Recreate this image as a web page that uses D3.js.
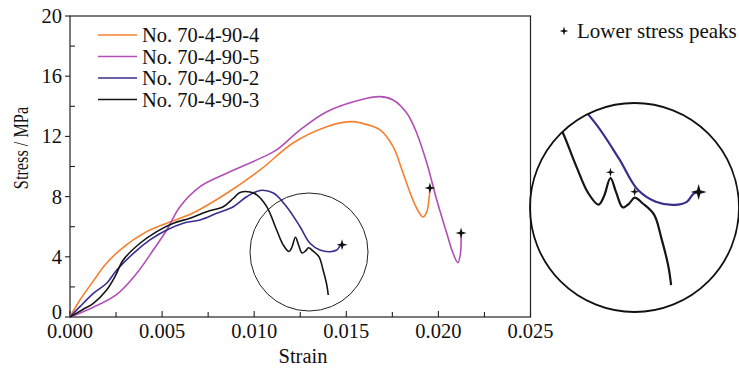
<!DOCTYPE html>
<html><head><meta charset="utf-8">
<script src="https://cdn.jsdelivr.net/npm/d3@7"></script>
<style>
html,body{margin:0;padding:0;background:#fff;}
svg{display:block;}
</style></head>
<body>
<svg id="c" width="739" height="370"></svg>
<script>
// ---- data ----
const seriesNames = ["No. 70-4-90-4","No. 70-4-90-5","No. 70-4-90-2","No. 70-4-90-3"];
const seriesColors = ["#f5802f","#b24fb6","#372e8e","#151515"];
const xTicks = [0,0.005,0.010,0.015,0.020,0.025];
const xTickLabels = ["0.000","0.005","0.010","0.015","0.020","0.025"];
const yTicks = [0,4,8,12,16,20];
const yTickLabels = ["0","4","8","12","16","20"];

// strain, stress (MPa)
const s4 = [[0,0],[0.00054,1.13],[0.00127,2.4],[0.0019,3.45],[0.00271,4.45],[0.00416,5.67],[0.00525,6.23],[0.00668,6.91],[0.00851,8.22],[0.01032,9.77],[0.01211,11.56],[0.01394,12.64],[0.0152,12.98],[0.01574,12.91],[0.01683,12.43],[0.01754,11.32],[0.01808,9.57],[0.01862,7.77],[0.019,6.84],[0.01916,6.64],[0.01936,6.95],[0.01948,7.75],[0.01954,8.57]];
const s5 = [[0,0],[0.00127,0.65],[0.00254,1.5],[0.00362,2.9],[0.00452,4.45],[0.00525,5.78],[0.00597,7.33],[0.00706,8.66],[0.00851,9.55],[0.01032,10.54],[0.01122,11.1],[0.01249,12.43],[0.01394,13.64],[0.01574,14.42],[0.01683,14.64],[0.01754,14.42],[0.01828,13.55],[0.01882,12.23],[0.01937,10.23],[0.01991,7.77],[0.02045,5.58],[0.02079,4.25],[0.02106,3.61],[0.0212,4.25],[0.02123,5.58]];
const s2 = [[0,0],[0.00054,0.69],[0.00127,1.57],[0.00199,2.24],[0.00254,3.12],[0.00344,4.23],[0.00434,5.12],[0.00525,5.78],[0.00615,6.23],[0.00706,6.45],[0.00796,6.89],[0.00887,7.33],[0.00959,7.99],[0.01032,8.41],[0.01104,8.24],[0.01176,7.33],[0.01249,6.0],[0.01303,4.9],[0.01357,4.45],[0.01412,4.34],[0.01448,4.45],[0.01466,4.72],[0.01477,4.8]];
const s3 = [[0,0],[0.0007,0.5],[0.00127,0.91],[0.00199,1.79],[0.00244,2.68],[0.00289,3.79],[0.0038,4.9],[0.00471,5.67],[0.00561,6.23],[0.00651,6.56],[0.00742,7.0],[0.00832,7.33],[0.00887,7.89],[0.00923,8.27],[0.00977,8.31],[0.01014,8.11],[0.01068,7.33],[0.01122,5.78],[0.01158,4.78],[0.01189,4.35],[0.01205,4.65],[0.01224,5.3],[0.01241,4.78],[0.0126,4.25],[0.01279,4.39],[0.01295,4.6],[0.01319,4.39],[0.01352,3.99],[0.01374,3.12],[0.01394,2.13],[0.01402,1.46]];
const seriesData = [s4,s5,s2,s3];

// lower stress peaks (main plot) and in the magnified view
const mainPeaks = [[0.01954,8.57],[0.02123,5.58],[0.01477,4.8]];
const insetPeaks = [[0.01224,5.3,"s"],[0.01295,4.6,"s"],[0.01477,4.8,"b"]];
const peakLabel = "Lower stress peaks";

// ---- drawing ----
const FONT = "'Liberation Serif','Times New Roman','DejaVu Serif',serif";
const svg = d3.select("#c");
const x = d3.scaleLinear().domain([0,0.025]).range([70,530.5]);
const y = d3.scaleLinear().domain([0,20]).range([317,16]);

function starPath(r){
  const w = r*0.22;
  return `M0,${-r}L${w},${-w}L${r},0L${w},${w}L0,${r}L${-w},${w}L${-r},0L${-w},${-w}Z`;
}
function txt(sel){ return sel.attr("font-family",FONT).attr("fill","#111"); }

// frame
svg.append("rect").attr("x",70).attr("y",16).attr("width",460.5).attr("height",301)
  .attr("fill","none").attr("stroke","#222").attr("stroke-width",1.2);

// x ticks (inward), majors + minors
const gx = svg.append("g");
d3.range(0,0.0251,0.0025).forEach((v,i)=>{
  gx.append("line").attr("x1",x(v)).attr("x2",x(v)).attr("y1",317).attr("y2",317-(i%2===0?6:5))
    .attr("stroke","#222").attr("stroke-width",1.1);
});
xTicks.forEach((v,i)=>{
  txt(gx.append("text")).attr("x",x(v)).attr("y",338).attr("text-anchor","middle")
    .attr("font-size",20.5).text(xTickLabels[i]);
});
// y ticks: majors outward, minors inward
const gy = svg.append("g");
d3.range(0,20.1,2).forEach((v,i)=>{
  if(i%2===0){
    gy.append("line").attr("x1",70).attr("x2",65).attr("y1",y(v)).attr("y2",y(v)).attr("stroke","#222").attr("stroke-width",1.1);
  } else {
    gy.append("line").attr("x1",70).attr("x2",75).attr("y1",y(v)).attr("y2",y(v)).attr("stroke","#222").attr("stroke-width",1.1);
  }
});
yTicks.forEach((v,i)=>{
  txt(gy.append("text")).attr("x",62).attr("y",y(v)+(v===0?2:7)).attr("text-anchor","end")
    .attr("font-size",20.5).text(yTickLabels[i]);
});

// axis titles
txt(svg.append("text")).attr("x",303).attr("y",363).attr("text-anchor","middle").attr("font-size",20.5).text("Strain");
txt(svg.append("text")).attr("transform","translate(28,148) rotate(-90) scale(0.74,1)").attr("text-anchor","middle")
  .attr("font-size",22).text("Stress / MPa");

// curves
const line = d3.line().x(d=>x(d[0])).y(d=>y(d[1])).curve(d3.curveCatmullRom.alpha(0.5));
seriesData.forEach((s,i)=>{
  svg.append("path").attr("d",line(s)).attr("fill","none").attr("stroke",seriesColors[i]).attr("stroke-width",1.6);
});

// main stars
mainPeaks.forEach(p=>{
  svg.append("path").attr("d",starPath(5.5)).attr("transform",`translate(${x(p[0])},${y(p[1])})`).attr("fill","#111");
});

// small circle in main plot
const c1 = {x:309,y:252,r:59};
svg.append("circle").attr("cx",c1.x).attr("cy",c1.y).attr("r",c1.r).attr("fill","none").attr("stroke","#222").attr("stroke-width",1);

// legend
seriesNames.forEach((n,i)=>{
  const yy = 35 + i*21.5;
  svg.append("line").attr("x1",98).attr("x2",137).attr("y1",yy).attr("y2",yy).attr("stroke",seriesColors[i]).attr("stroke-width",1.6);
  txt(svg.append("text")).attr("x",142).attr("y",yy+7).attr("font-size",20.5).text(n);
});

// lower stress peak legend
svg.append("path").attr("d",starPath(4.5)).attr("transform","translate(564,31)").attr("fill","#111");
txt(svg.append("text")).attr("x",577).attr("y",38).attr("font-size",21).text(peakLabel);

// magnified inset
const c2 = {x:634.5,y:207.5,r:104.5};
const k = 1.85;
const xi = d3.scaleLinear().domain(x.domain()).range(x.range().map(v=>c2.x + k*(v-c1.x) + 1));
const yi = d3.scaleLinear().domain(y.domain()).range(y.range().map(v=>c2.y + k*(v-c1.y) - 2));
const defs = svg.append("defs");
defs.append("clipPath").attr("id","clipI").append("circle").attr("cx",c2.x).attr("cy",c2.y).attr("r",c2.r);
const lineI = d3.line().x(d=>xi(d[0])).y(d=>yi(d[1])).curve(d3.curveCatmullRom.alpha(0.5));
const gi = svg.append("g").attr("clip-path","url(#clipI)");
seriesData.forEach((s,i)=>{
  gi.append("path").attr("d",lineI(s)).attr("fill","none").attr("stroke",seriesColors[i]).attr("stroke-width",2.2);
});
insetPeaks.forEach(p=>{
  const big = p[2]==="b";
  svg.append("path").attr("d",starPath(big?8:4.5)).attr("transform",`translate(${xi(p[0])+(big?2:0)},${yi(p[1])-(big?0:6)})`).attr("fill","#111");
});
svg.append("circle").attr("cx",c2.x).attr("cy",c2.y).attr("r",c2.r).attr("fill","none").attr("stroke","#111").attr("stroke-width",1.8);
</script>
</body></html>
